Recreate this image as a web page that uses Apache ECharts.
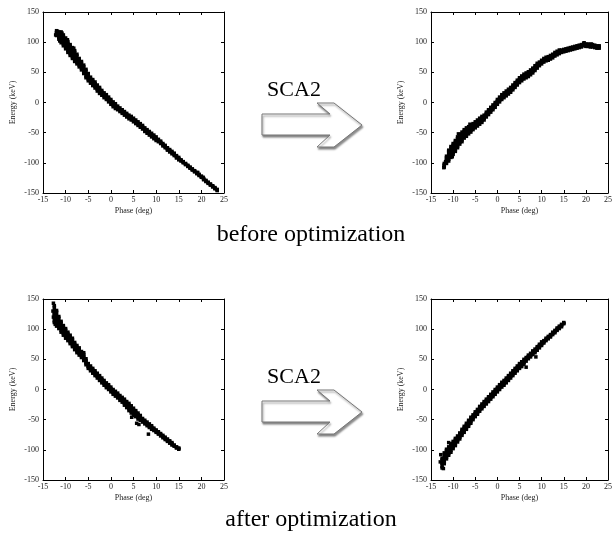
<!DOCTYPE html>
<html>
<head>
<meta charset="utf-8">
<script src="https://cdn.jsdelivr.net/npm/echarts@6/dist/echarts.min.js"></script>
<style>html,body{margin:0;padding:0;background:#fff}#c{width:615px;height:533px}</style>
</head>
<body>
<div id="c"></div>
<script>
// ---- Data (band upper edge / centre / lower edge) ----
// Panel A: before optimization, input side
const phaseA = [-12,-11.5,-11,-10.5,-10,-9.5,-9,-8.5,-8,-7.5,-7,-6.5,-6,-5.5,-5,-4.5,-4,-3.5,-3,-2.5,-2,-1.5,-1,-0.5,0,0.5,1,1.5,2,2.5,3,3.5,4,4.5,5,5.5,6,6.5,7,7.5,8,8.5,9,9.5,10,10.5,11,11.5,12,12.5,13,13.5,14,14.5,15,15.5,16,16.5,17,17.5,18,18.5,19,19.5,20,20.5,21,21.5,22,22.5,23,23.5];
const energyAHi = [119,117,117,112,107,101,96,91,86,80,73,68,62,55,48,42,38,34,29,25,20,16,13,9,5,1,-2,-6,-9,-12,-15,-18,-21,-23,-26,-29,-32,-35,-38,-42,-45,-48,-51,-54,-57,-61,-64,-68,-71,-75,-78,-81,-84,-88,-91,-95,-98,-101,-104,-107,-110,-113,-116,-119,-122,-126,-129,-132,-135,-138,-141,-144];
const energyAMid = [115,111,108,103,98,92,87,82,77,72,66,61,55,48,42,37,33,29,24,20,16,12,9,5,1,-3,-6,-9,-12,-15,-18,-21,-24,-26,-29,-32,-35,-38,-41,-45,-48,-51,-54,-57,-60,-63,-66,-70,-73,-77,-80,-83,-86,-90,-93,-96,-99,-102,-105,-108,-111,-114,-117,-120,-123,-127,-130,-133,-136,-139,-142,-145];
const energyALo = [111,105,99,94,89,83,78,73,68,64,59,54,48,41,36,32,28,24,19,15,12,8,5,1,-3,-7,-10,-12,-15,-18,-21,-24,-27,-29,-32,-35,-38,-41,-44,-48,-51,-54,-57,-60,-63,-65,-68,-72,-75,-79,-82,-85,-88,-92,-95,-97,-100,-103,-106,-109,-112,-115,-118,-121,-124,-128,-131,-134,-137,-140,-143,-146];
const extraA = [[-12.2,112],[-11.8,118],[-11.3,102],[-10.8,115],[-9.6,104],[-8.2,90],[19.2,-116],[20.4,-124]];

// Panel B: before optimization, after SCA2
const phaseB = [-12,-11.5,-11,-10.5,-10,-9.5,-9,-8.5,-8,-7.5,-7,-6.5,-6,-5.5,-5,-4.5,-4,-3.5,-3,-2.5,-2,-1.5,-1,-0.5,0,0.5,1,1.5,2,2.5,3,3.5,4,4.5,5,5.5,6,6.5,7,7.5,8,8.5,9,9.5,10,10.5,11,11.5,12,12.5,13,13.5,14,14.5,15,15.5,16,16.5,17,17.5,18,18.5,19,19.5,20,20.5,21,21.5,22,22.5,23];
const energyBHi = [-101,-89,-79,-73,-68,-63,-57,-53,-49,-45,-42,-40,-37,-35,-32,-29,-26,-23,-21,-16,-12,-8,-4,0,5,9,13,16,19,22,25,29,33,37,41,44,47,49,51,54,57,61,65,67,70,73,75,76,78,80,83,85,87,87,88,89,90,91,92,93,94,95,96,98,97,97,96,96,95,94,94];
const energyBMid = [-104,-95,-88,-82,-77,-72,-66,-61,-57,-52,-49,-46,-43,-40,-37,-34,-31,-28,-25,-20,-16,-12,-8,-4,1,5,9,12,15,18,21,25,29,33,37,40,43,45,47,50,53,57,61,64,67,70,72,73,75,77,80,82,84,85,86,87,88,89,90,91,92,93,94,96,95,95,94,94,93,92,92];
const energyBLo = [-107,-101,-97,-91,-86,-81,-75,-69,-65,-59,-56,-52,-49,-45,-42,-39,-36,-33,-29,-24,-20,-16,-12,-8,-3,1,5,8,11,14,17,21,25,29,33,36,39,41,43,46,49,53,57,61,64,67,69,70,72,74,77,79,81,83,84,85,86,87,88,89,90,91,92,94,93,93,92,92,91,90,90];
const extraB = [[-12.1,-108],[-11.7,-98],[-10.2,-90],[-8.8,-52],[-6.2,-36],[19.6,99],[21.2,97]];

// Panel C: after optimization, input side
const phaseC = [-12.5,-12,-11.5,-11,-10.5,-10,-9.5,-9,-8.5,-8,-7.5,-7,-6.5,-6,-5.5,-5,-4.5,-4,-3.5,-3,-2.5,-2,-1.5,-1,-0.5,0,0.5,1,1.5,2,2.5,3,3.5,4,4.5,5,5.5,6,6.5,7,7.5,8,8.5,9,9.5,10,10.5,11,11.5,12,12.5,13,13.5,14,14.5,15];
const energyCHi = [139,131,121,113,106,101,95,90,85,78,73,69,63,58,51,43,39,35,31,27,23,19,15,11,8,4,0,-3,-6,-10,-13,-16,-20,-23,-27,-31,-35,-39,-43,-48,-51,-54,-57,-60,-64,-67,-70,-73,-76,-79,-82,-85,-88,-92,-95,-97];
const energyCMid = [125,118,111,104,98,93,88,83,78,72,67,63,58,53,46,39,35,31,27,23,19,15,11,7,4,0,-4,-7,-10,-14,-17,-21,-25,-29,-33,-37,-40,-44,-47,-51,-54,-57,-60,-63,-66,-69,-72,-75,-78,-81,-84,-87,-90,-93,-96,-98];
const energyCLo = [111,105,101,95,90,85,81,76,71,66,61,57,53,48,41,35,31,27,23,19,15,11,7,3,0,-4,-8,-11,-14,-18,-21,-26,-30,-35,-39,-43,-45,-49,-51,-54,-57,-60,-63,-66,-68,-71,-74,-77,-80,-83,-86,-89,-92,-94,-97,-99];
const extraC = [[-12.7,143],[-12.8,130],[-12.7,120],[-12.3,108],[-6,61],[5.7,-56],[8.3,-74],[6.2,-58],[4.6,-46]];

// Panel D: after optimization, after SCA2
const phaseD = [-12.5,-12,-11.5,-11,-10.5,-10,-9.5,-9,-8.5,-8,-7.5,-7,-6.5,-6,-5.5,-5,-4.5,-4,-3.5,-3,-2.5,-2,-1.5,-1,-0.5,0,0.5,1,1.5,2,2.5,3,3.5,4,4.5,5,5.5,6,6.5,7,7.5,8,8.5,9,9.5,10,10.5,11,11.5,12,12.5,13,13.5,14,14.5,15];
const energyDHi = [-114,-105,-99,-95,-90,-86,-81,-77,-72,-66,-61,-56,-51,-46,-42,-37,-33,-28,-24,-20,-16,-12,-8,-4,0,4,8,12,15,19,23,27,31,35,39,43,46,50,53,57,60,64,67,71,75,79,81,85,88,91,95,98,102,105,108,111];
const energyDMid = [-122,-114,-107,-102,-97,-92,-87,-82,-77,-71,-66,-61,-56,-51,-46,-41,-37,-32,-28,-24,-20,-16,-12,-8,-4,0,4,8,11,15,19,23,27,31,35,39,42,46,50,54,57,61,64,68,72,76,79,83,86,89,93,96,100,103,106,110];
const energyDLo = [-130,-123,-115,-109,-104,-98,-93,-87,-82,-76,-71,-66,-61,-56,-50,-45,-41,-36,-32,-28,-24,-20,-16,-12,-8,-4,0,4,7,11,15,19,23,27,31,35,38,42,47,51,54,58,61,65,69,73,77,81,84,87,91,94,98,101,104,109];
const extraD = [[6.5,37],[8.7,54],[-12.8,-108],[-12.9,-120],[-12.2,-131],[-11,-88],[5.8,45]];

const phaseTicks = [-15,-10,-5,0,5,10,15,20,25];
const energyTicks = [-150,-100,-50,0,50,100,150];

// ---- Chart ----
const SERIF = '"Liberation Serif","Times New Roman",serif';
function points(xs, hi, mid, lo, extra) {
  const out = [];
  for (let i = 0; i < xs.length; i++) {
    out.push([xs[i], hi[i]], [xs[i], mid[i]], [xs[i], lo[i]]);
  }
  return out.concat(extra);
}
function spans(xs, hi, lo) {
  return xs.map((x, i) => [x, lo[i], hi[i]]);
}
const panels = [
  {pts: points(phaseA, energyAHi, energyAMid, energyALo, extraA), sp: spans(phaseA, energyAHi, energyALo)},
  {pts: points(phaseB, energyBHi, energyBMid, energyBLo, extraB), sp: spans(phaseB, energyBHi, energyBLo)},
  {pts: points(phaseC, energyCHi, energyCMid, energyCLo, extraC), sp: spans(phaseC, energyCHi, energyCLo)},
  {pts: points(phaseD, energyDHi, energyDMid, energyDLo, extraD), sp: spans(phaseD, energyDHi, energyDLo)}
];
const grids = [
  {left: 43, top: 12, width: 181, height: 181},
  {left: 431, top: 12, width: 182, height: 181},
  {left: 43, top: 299, width: 181, height: 181},
  {left: 431, top: 299, width: 182, height: 181}
];
const lbl = {fontFamily: SERIF, fontSize: 8, color: '#222'};
const xAxes = [], yAxes = [], series = [];
grids.forEach((g, i) => {
  const common = {
    type: 'value', gridIndex: i, interval: 5, min: phaseTicks[0], max: phaseTicks[phaseTicks.length-1],
    splitLine: {show: false},
    axisLine: {show: true, onZero: false, lineStyle: {color: '#000', width: 1}},
    axisTick: {show: true, inside: true, length: 3, lineStyle: {color: '#000'}}
  };
  xAxes.push(Object.assign({}, common, {
    position: 'bottom', name: 'Phase (deg)', nameLocation: 'middle', nameGap: 14,
    nameTextStyle: lbl, axisLabel: Object.assign({margin: 3}, lbl)
  }));
  xAxes.push(Object.assign({}, common, {position: 'top', axisLabel: {show: false}}));
  const ycommon = Object.assign({}, common, {interval: 50, min: energyTicks[0], max: energyTicks[energyTicks.length-1]});
  yAxes.push(Object.assign({}, ycommon, {
    position: 'left', name: 'Energy (keV)', nameLocation: 'middle', nameGap: 26, nameRotate: 90,
    nameTextStyle: lbl, axisLabel: Object.assign({margin: 4}, lbl)
  }));
  yAxes.push(Object.assign({}, ycommon, {position: 'right', axisLabel: {show: false}}));
  // dense body of the point cloud: vertical run from lower to upper edge at each phase
  series.push({
    type: 'custom', xAxisIndex: 2*i, yAxisIndex: 2*i, data: panels[i].sp, silent: true,
    clip: true, animation: false,
    renderItem: function (params, api) {
      const top = api.coord([api.value(0), api.value(2)]);
      const bot = api.coord([api.value(0), api.value(1)]);
      return {type: 'rect', shape: {x: top[0] - 1.8, y: top[1], width: 3.6, height: bot[1] - top[1]},
        style: {fill: '#000'}};
    }
  });
  series.push({
    type: 'scatter', xAxisIndex: 2*i, yAxisIndex: 2*i, data: panels[i].pts,
    symbol: 'rect', symbolSize: 3.5, itemStyle: {color: '#000', opacity: 1}, silent: true, animation: false
  });
});

function arrow(dy) {
  const p = [[262,114],[330,114],[317,103],[334,103],[362,125],[334,147],[317,147],[330,135],[262,135]];
  return {
    type: 'polygon', z: 10,
    shape: {points: p.map(q => [q[0], q[1] + dy])},
    style: {fill: '#fff', stroke: '#777', lineWidth: 1,
      shadowColor: 'rgba(0,0,0,0.45)', shadowBlur: 2, shadowOffsetX: 1, shadowOffsetY: 2}
  };
}
function txt(s, x, y, size) {
  return {type: 'text', z: 11, style: {text: s, x: x, y: y, font: size + 'px ' + SERIF,
    textAlign: 'center', textVerticalAlign: 'middle', fill: '#000'}};
}

const chart = echarts.init(document.getElementById('c'), null, {renderer: 'canvas'});
chart.setOption({
  animation: false,
  backgroundColor: '#fff',
  grid: grids,
  xAxis: xAxes,
  yAxis: yAxes,
  series: series,
  graphic: [
    arrow(0), arrow(287),
    txt('SCA2', 294, 90, 22), txt('SCA2', 294, 377, 22),
    txt('before optimization', 311, 235, 24),
    txt('after optimization', 311, 520, 24)
  ]
});
</script>
</body>
</html>
